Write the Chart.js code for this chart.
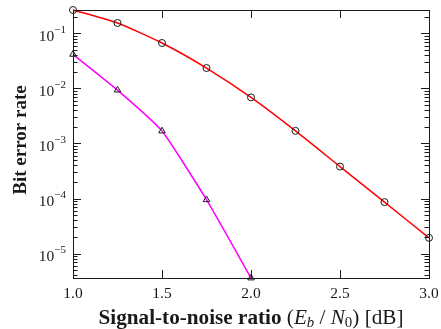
<!DOCTYPE html>
<html>
<head>
<meta charset="utf-8">
<script src="https://cdn.jsdelivr.net/npm/chart.js@4/dist/chart.umd.min.js"></script>
<style>
  html, body { margin: 0; padding: 0; background: #fff; }
  #wrap { width: 441px; height: 329px; }
</style>
</head>
<body>
<div id="wrap"><canvas id="c" width="441" height="329"></canvas></div>
<script>
// Eb/N0 in dB for each simulated point
const snrDb = [1.0, 1.25, 1.5, 1.75, 2.0, 2.25, 2.5, 2.75, 3.0];
// Bit error rate, red curve (circles)
const berRed = [0.265, 0.154, 0.0667, 0.0234, 0.00686, 0.00169, 0.00038, 0.000086, 0.0000193];
// Bit error rate, magenta curve (triangles)
const snrDbMagenta = [1.0, 1.25, 1.5, 1.75, 2.0];
const berMagenta = [0.0415, 0.0093, 0.00168, 0.000095, 0.0000036];
// Axis ticks
const xTicks = [1.0, 1.5, 2.0, 2.5, 3.0];
const xTickLabels = ['1.0', '1.5', '2.0', '2.5', '3.0'];
const yDecades = [-5, -4, -3, -2, -1];

const SERIF = '"Liberation Serif", "DejaVu Serif", serif';
const INK = '#1a1a1a';

const toPoints = (xs, ys) => xs.map((x, i) => ({ x: x, y: ys[i] }));

const allBer = berRed.concat(berMagenta);
const yMin = Math.min(...allBer);
const yMax = Math.max(...allBer);

const axesPlugin = {
  id: 'axesPlugin',
  afterDraw(chart) {
    const ctx = chart.ctx;
    const a = chart.chartArea;
    const xs = chart.scales.x, ys = chart.scales.y;
    ctx.save();
    ctx.strokeStyle = INK;
    ctx.fillStyle = INK;
    ctx.lineWidth = 1;

    // frame
    ctx.strokeRect(Math.round(a.left) + 0.5, Math.round(a.top) + 0.5,
                   Math.round(a.right - a.left), Math.round(a.bottom - a.top));

    const majorLen = 8, minorLen = 4.5;
    ctx.beginPath();
    // x ticks on bottom and top
    xTicks.forEach(v => {
      const px = Math.round(xs.getPixelForValue(v)) + 0.5;
      ctx.moveTo(px, a.bottom); ctx.lineTo(px, a.bottom - majorLen);
      ctx.moveTo(px, a.top); ctx.lineTo(px, a.top + majorLen);
    });
    // y ticks (major at decades, minor at 2..9)
    const dLo = Math.floor(Math.log10(yMin)), dHi = Math.ceil(Math.log10(yMax));
    for (let d = dLo; d <= dHi; d++) {
      for (let k = 1; k <= 9; k++) {
        const v = k * Math.pow(10, d);
        if (v < yMin * 0.999 || v > yMax * 1.001) continue;
        const py = Math.round(ys.getPixelForValue(v)) + 0.5;
        const len = k === 1 ? majorLen : minorLen;
        ctx.moveTo(a.left, py); ctx.lineTo(a.left + len, py);
        ctx.moveTo(a.right, py); ctx.lineTo(a.right - len, py);
      }
    }
    ctx.stroke();

    // x tick labels
    ctx.font = '15.5px ' + SERIF;
    ctx.textAlign = 'center';
    ctx.textBaseline = 'alphabetic';
    xTicks.forEach((v, i) => {
      ctx.fillText(xTickLabels[i], xs.getPixelForValue(v), a.bottom + 20);
    });

    // y tick labels: 10 with superscript exponent
    yDecades.forEach(d => {
      const py = ys.getPixelForValue(Math.pow(10, d));
      const exp = '\u2212' + Math.abs(d);
      ctx.font = '11px ' + SERIF;
      const ew = ctx.measureText(exp).width;
      ctx.font = '15.5px ' + SERIF;
      const bw = ctx.measureText('10').width;
      const right = a.left - 7;
      ctx.textAlign = 'left';
      ctx.fillText('10', right - ew - bw, py + 7.5);
      ctx.font = '11px ' + SERIF;
      ctx.fillText(exp, right - ew, py - 0.5);
    });

    // y axis title
    ctx.save();
    ctx.translate(26, (a.top + a.bottom) / 2 - 4);
    ctx.rotate(-Math.PI / 2);
    ctx.font = 'bold 19px ' + SERIF;
    ctx.textAlign = 'center';
    ctx.fillText('Bit error rate', 0, 0);
    ctx.restore();

    // x axis title with italic symbols and subscripts
    const base = 21.2;
    const segs = [
      { t: 'Signal-to-noise ratio ', f: 'bold ' + base + 'px ' + SERIF, dy: 0 },
      { t: '(', f: base + 'px ' + SERIF, dy: 0 },
      { t: 'E', f: 'italic ' + base + 'px ' + SERIF, dy: 0 },
      { t: 'b', f: 'italic ' + (base * 0.7) + 'px ' + SERIF, dy: 3 },
      { t: ' / ', f: base + 'px ' + SERIF, dy: 0 },
      { t: 'N', f: 'italic ' + base + 'px ' + SERIF, dy: 0 },
      { t: '0', f: (base * 0.7) + 'px ' + SERIF, dy: 3 },
      { t: ') [dB]', f: base + 'px ' + SERIF, dy: 0 }
    ];
    let total = 0;
    segs.forEach(s => { ctx.font = s.f; s.w = ctx.measureText(s.t).width; total += s.w; });
    let x = (a.left + a.right) / 2 - total / 2;
    const yb = a.bottom + 46;
    ctx.textAlign = 'left';
    segs.forEach(s => { ctx.font = s.f; ctx.fillText(s.t, x, yb + s.dy); x += s.w; });

    ctx.restore();
  }
};

new Chart(document.getElementById('c'), {
  type: 'line',
  data: {
    datasets: [
      {
        data: toPoints(snrDb, berRed),
        borderColor: '#ff0000',
        borderWidth: 1.5,
        pointStyle: 'circle',
        pointRadius: 3.5,
        pointBorderWidth: 1,
        pointBorderColor: INK,
        pointBackgroundColor: 'rgba(0,0,0,0)',
        tension: 0.2,
        clip: false
      },
      {
        data: toPoints(snrDbMagenta, berMagenta),
        borderColor: '#ff00ff',
        borderWidth: 1.5,
        pointStyle: 'triangle',
        pointRadius: 3.8,
        pointBorderWidth: 1,
        pointBorderColor: INK,
        pointBackgroundColor: 'rgba(0,0,0,0)',
        tension: 0.15,
        clip: false
      }
    ]
  },
  options: {
    responsive: false,
    animation: false,
    layout: { padding: { left: 73, right: 12, top: 10, bottom: 51 } },
    plugins: { legend: { display: false }, tooltip: { enabled: false } },
    scales: {
      x: { type: 'linear', min: 1, max: 3, display: false },
      y: { type: 'logarithmic', min: yMin, max: yMax, display: false }
    }
  },
  plugins: [axesPlugin]
});
</script>
</body>
</html>
